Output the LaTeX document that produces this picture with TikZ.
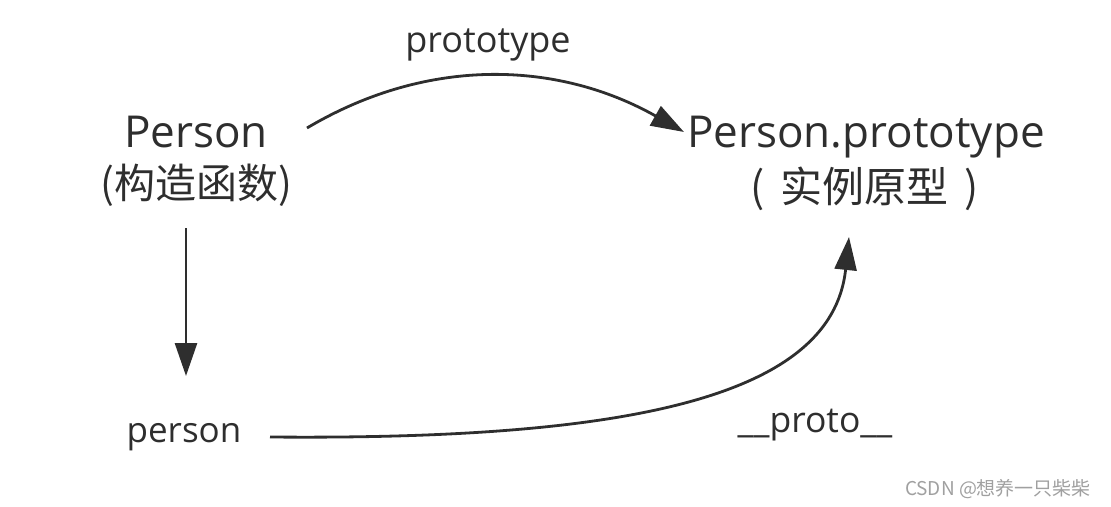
\documentclass[tikz,border=0pt]{standalone}
\usepackage{fontspec}
\setmainfont{Open Sans}
\newfontfamily\cjk{Noto Sans CJK SC}
\usetikzlibrary{arrows.meta}
\definecolor{ink}{HTML}{2E2E2E}
\definecolor{wm}{HTML}{A0A0A0}
\begin{document}
\begin{tikzpicture}[x=1pt,y=-1pt,
  lbl/.style={inner sep=0pt,text=ink,anchor=base},
  conn/.style={draw=ink,line width=2.8pt,-{Triangle[length=33pt,width=22pt]}}]
\useasboundingbox (0,0) rectangle (1111,506);
% labels
\node[lbl,font=\fontsize{44}{44}\selectfont] (person) at (196,147) {Person};
\node[lbl,font=\fontsize{41}{41}\selectfont\cjk] (ctor) at (196,198) {(构造函数)};
\node[lbl,font=\fontsize{44}{44}\selectfont] (proto) at (866,147) {Person.prototype};
\node[lbl,font=\fontsize{42}{42}\selectfont\cjk] (inst) at (865,202) {(\hspace{16pt}实例原型\hspace{16pt})};
\node[lbl,font=\fontsize{36}{36}\selectfont] (ptlbl) at (488,52) {prototype};
\node[lbl,font=\fontsize{35}{35}\selectfont] (inst2) at (184,442) {person};
\node[lbl,font=\fontsize{35.5}{35.5}\selectfont] (dunder) at (815,432) {\_\_proto\_\_};
\node[inner sep=0pt,anchor=base,text=wm,font=\fontsize{19}{19}\selectfont\cjk] (wmk) at (998,495) {CSDN @想养一只柴柴};
% connector ends
\coordinate (a1) at (307,128);
\coordinate (a2) at (684,132);
\coordinate (b1) at (186,228);
\coordinate (b2) at (186,376);
\coordinate (c1) at (270,437);
\coordinate (c2) at (849,237);
% connectors
\draw[conn] (a1) .. controls (430,55) and (560,62) .. (a2);
\draw[conn] (b1) -- (b2);
\draw[conn] (c1) .. controls (620,440) and (832,400) .. (c2);
\end{tikzpicture}
\end{document}
